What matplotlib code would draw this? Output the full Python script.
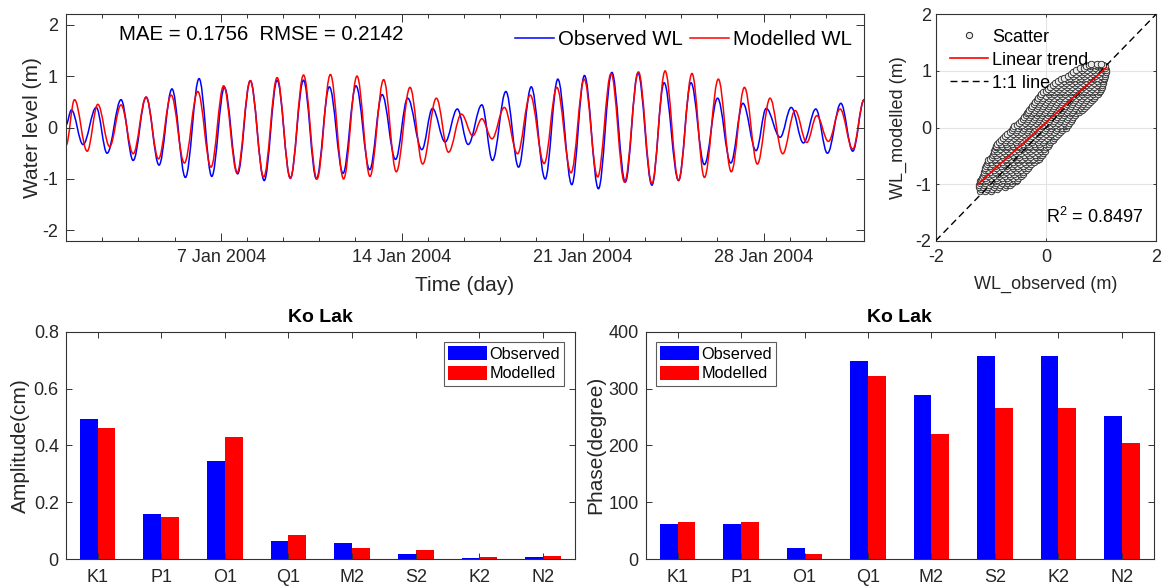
import numpy as np
import matplotlib
matplotlib.use('Agg')
import matplotlib.pyplot as plt
import matplotlib.dates as mdates
from matplotlib.path import Path
from matplotlib.patches import PathPatch
from matplotlib.lines import Line2D
from matplotlib.ticker import FixedLocator

plt.rcParams['font.family'] = ['Liberation Sans', 'DejaVu Sans']
plt.rcParams['mathtext.default'] = 'regular'
plt.rcParams['axes.unicode_minus'] = False

# ---------------- data ----------------
# water-level turning points (days since 1 Jan 2004 00:00, metres)
obs_day = [0.0, 0.21, 0.66, 1.17, 1.59, 2.13, 2.60, 3.10, 3.60, 4.10, 4.62, 5.15, 5.64, 6.13,
           6.64, 7.13, 7.67, 8.17, 8.68, 9.19, 9.69, 10.19, 10.72, 11.22, 11.75, 12.23, 12.75,
           13.22, 13.77, 14.18, 14.67, 15.14, 15.56, 16.09, 16.50, 17.02, 17.51, 18.00, 18.54,
           19.03, 19.57, 20.06, 20.60, 21.12, 21.64, 22.13, 22.67, 23.14, 23.70, 24.18, 24.70,
           25.21, 25.72, 26.19, 26.70, 27.09, 27.63, 28.06, 28.53, 29.01, 29.46, 29.98, 30.44, 30.88]
obs_wl = [0.05, 0.34, -0.33, 0.39, -0.50, 0.54, -0.64, 0.59, -0.73, 0.75, -0.97, 0.95, -0.95, 0.78,
          -0.90, 0.91, -1.03, 0.92, -0.98, 0.92, -1.00, 0.79, -0.89, 0.81, -0.82, 0.64, -0.62,
          0.57, -0.43, 0.37, -0.28, 0.36, -0.33, 0.44, -0.64, 0.70, -0.77, 0.79, -1.00,
          0.94, -1.11, 1.01, -1.19, 1.07, -1.06, 1.06, -1.12, 0.87, -1.03, 0.87, -0.72,
          0.57, -0.69, 0.47, -0.45, 0.37, -0.19, 0.39, -0.30, 0.36, -0.50, 0.47, -0.46, 0.54]
mod_day = [0.0, 0.33, 0.82, 1.23, 1.69, 2.13, 2.60, 3.10, 3.58, 4.07, 4.58, 5.10, 5.61, 6.10,
           6.62, 7.13, 7.65, 8.17, 8.68, 9.19, 9.71, 10.23, 10.74, 11.26, 11.76, 12.29, 12.78,
           13.31, 13.80, 14.33, 14.80, 15.30, 15.74, 16.09, 16.48, 16.96, 17.47, 17.96, 18.50,
           18.99, 19.54, 20.05, 20.57, 21.09, 21.61, 22.15, 22.67, 23.18, 23.70, 24.22, 24.70,
           25.24, 25.74, 26.25, 26.75, 27.24, 27.73, 28.21, 28.66, 29.05, 29.50, 29.95, 30.44, 30.88]
mod_wl = [-0.35, 0.54, -0.46, 0.45, -0.37, 0.44, -0.51, 0.59, -0.61, 0.63, -0.69, 0.70, -0.77, 0.81,
          -0.88, 0.91, -0.96, 0.97, -0.99, 1.02, -1.00, 1.03, -1.00, 1.00, -0.95, 0.93, -0.86,
          0.78, -0.71, 0.57, -0.48, 0.26, -0.16, 0.17, -0.22, 0.39, -0.51, 0.63, -0.70,
          0.78, -0.88, 0.94, -0.96, 1.05, -1.06, 1.08, -1.09, 1.10, -1.03, 1.05, -0.97,
          0.94, -0.86, 0.78, -0.71, 0.57, -0.51, 0.33, -0.29, 0.23, -0.27, 0.36, -0.42, 0.54]

major_tick_days = [6, 13, 20, 27]
minor_tick_days = [1.4, 2.8, 4.2, 7.0, 8.4, 9.8, 11.2, 14.0, 15.4, 16.8, 18.2,
                   21.0, 22.4, 23.8, 25.2, 28.0, 29.4]

scatter_rows = [
    (-1.12, [-1.20, -1.10, -1.00]),
    (-1.085, [-1.17, -1.07, -0.97, -0.88]),
    (-1.05, [-1.22, -1.15, -1.05, -0.95, -0.85, -0.75]),
    (-1.015, [-1.21, -1.13, -1.03, -0.93, -0.83, -0.73, -0.66]),
    (-0.98, [-1.20, -1.10, -1.00, -0.90, -0.80, -0.70, -0.62]),
    (-0.95, [-1.19, -1.13, -1.03, -0.93, -0.83, -0.73, -0.63, -0.55]),
    (-0.92, [-1.18, -1.08, -0.98, -0.88, -0.78, -0.68, -0.58, -0.52]),
    (-0.885, [-1.16, -1.10, -1.00, -0.90, -0.80, -0.70, -0.60, -0.50]),
    (-0.85, [-1.15, -1.05, -0.95, -0.85, -0.75, -0.65, -0.55, -0.45]),
    (-0.815, [-1.13, -1.07, -0.97, -0.87, -0.77, -0.67, -0.57, -0.47, -0.41]),
    (-0.78, [-1.12, -1.02, -0.92, -0.82, -0.72, -0.62, -0.52, -0.42]),
    (-0.75, [-1.11, -1.05, -0.95, -0.85, -0.75, -0.65, -0.55, -0.45, -0.36]),
    (-0.72, [-1.10, -1.00, -0.90, -0.80, -0.70, -0.60, -0.50, -0.40, -0.32]),
    (-0.685, [-1.08, -1.02, -0.92, -0.82, -0.72, -0.62, -0.52, -0.42, -0.30]),
    (-0.65, [-1.07, -0.97, -0.87, -0.77, -0.67, -0.57, -0.47, -0.37, -0.27]),
    (-0.615, [-1.06, -1.00, -0.90, -0.80, -0.70, -0.60, -0.50, -0.40, -0.30, -0.21]),
    (-0.58, [-1.05, -0.95, -0.85, -0.75, -0.65, -0.55, -0.45, -0.35, -0.25, -0.17]),
    (-0.55, [-1.02, -0.93, -0.83, -0.73, -0.63, -0.53, -0.43, -0.33, -0.23, -0.13]),
    (-0.52, [-0.98, -0.88, -0.78, -0.68, -0.58, -0.48, -0.38, -0.28, -0.18, -0.10]),
    (-0.485, [-0.96, -0.90, -0.80, -0.70, -0.60, -0.50, -0.40, -0.30, -0.20, -0.10, -0.07]),
    (-0.45, [-0.95, -0.85, -0.75, -0.65, -0.55, -0.45, -0.35, -0.25, -0.15, -0.05]),
    (-0.415, [-0.94, -0.88, -0.78, -0.68, -0.58, -0.48, -0.38, -0.28, -0.18, -0.08, -0.01]),
    (-0.38, [-0.93, -0.83, -0.73, -0.63, -0.53, -0.43, -0.33, -0.23, -0.13, -0.03]),
    (-0.35, [-0.91, -0.88, -0.78, -0.68, -0.58, -0.48, -0.38, -0.28, -0.18, -0.08, 0.00]),
    (-0.32, [-0.90, -0.80, -0.70, -0.60, -0.50, -0.40, -0.30, -0.20, -0.10, 0.03]),
    (-0.285, [-0.88, -0.82, -0.72, -0.62, -0.52, -0.42, -0.32, -0.22, -0.12, -0.02, 0.06]),
    (-0.25, [-0.85, -0.75, -0.65, -0.55, -0.45, -0.35, -0.25, -0.15, -0.05, 0.08]),
    (-0.215, [-0.82, -0.73, -0.63, -0.53, -0.43, -0.33, -0.23, -0.13, -0.03, 0.07, 0.12]),
    (-0.18, [-0.78, -0.68, -0.58, -0.48, -0.38, -0.28, -0.18, -0.08, 0.02, 0.15]),
    (-0.15, [-0.74, -0.65, -0.55, -0.45, -0.35, -0.25, -0.15, -0.05, 0.05, 0.15, 0.18]),
    (-0.12, [-0.70, -0.60, -0.50, -0.40, -0.30, -0.20, -0.10, 0.00, 0.10, 0.22]),
    (-0.085, [-0.66, -0.55, -0.45, -0.35, -0.25, -0.15, -0.05, 0.05, 0.15, 0.25]),
    (-0.05, [-0.62, -0.52, -0.42, -0.32, -0.22, -0.12, -0.02, 0.08, 0.18, 0.30]),
    (-0.015, [-0.60, -0.50, -0.40, -0.30, -0.20, -0.10, 0.00, 0.10, 0.20, 0.30, 0.36]),
    (0.02, [-0.57, -0.47, -0.37, -0.27, -0.17, -0.07, 0.03, 0.13, 0.23, 0.35]),
    (0.05, [-0.52, -0.43, -0.33, -0.23, -0.13, -0.03, 0.07, 0.17, 0.27, 0.37, 0.40]),
    (0.08, [-0.48, -0.38, -0.28, -0.18, -0.08, 0.02, 0.12, 0.22, 0.32, 0.42]),
    (0.115, [-0.45, -0.35, -0.25, -0.15, -0.05, 0.05, 0.15, 0.25, 0.35, 0.45]),
    (0.15, [-0.42, -0.32, -0.22, -0.12, -0.02, 0.08, 0.18, 0.28, 0.38, 0.48]),
    (0.185, [-0.40, -0.30, -0.20, -0.10, 0.00, 0.10, 0.20, 0.30, 0.40, 0.50]),
    (0.22, [-0.37, -0.27, -0.17, -0.07, 0.03, 0.13, 0.23, 0.33, 0.43, 0.53]),
    (0.25, [-0.35, -0.25, -0.15, -0.05, 0.05, 0.15, 0.25, 0.35, 0.45, 0.55]),
    (0.28, [-0.32, -0.22, -0.12, -0.02, 0.08, 0.18, 0.28, 0.38, 0.48, 0.60]),
    (0.315, [-0.30, -0.20, -0.10, 0.00, 0.10, 0.20, 0.30, 0.40, 0.50, 0.60, 0.65]),
    (0.35, [-0.27, -0.17, -0.07, 0.03, 0.13, 0.23, 0.33, 0.43, 0.53, 0.63, 0.70]),
    (0.385, [-0.25, -0.15, -0.05, 0.05, 0.15, 0.25, 0.35, 0.45, 0.55, 0.65, 0.73]),
    (0.42, [-0.22, -0.12, -0.02, 0.08, 0.18, 0.28, 0.38, 0.48, 0.58, 0.68, 0.77]),
    (0.45, [-0.20, -0.10, 0.00, 0.10, 0.20, 0.30, 0.40, 0.50, 0.60, 0.70, 0.80]),
    (0.48, [-0.17, -0.07, 0.03, 0.13, 0.23, 0.33, 0.43, 0.53, 0.63, 0.73, 0.83]),
    (0.515, [-0.14, -0.05, 0.05, 0.15, 0.25, 0.35, 0.45, 0.55, 0.65, 0.75, 0.85, 0.88]),
    (0.55, [-0.10, 0.00, 0.10, 0.20, 0.30, 0.40, 0.50, 0.60, 0.70, 0.80, 0.90]),
    (0.585, [-0.08, 0.05, 0.15, 0.25, 0.35, 0.45, 0.55, 0.65, 0.75, 0.85, 0.95]),
    (0.62, [-0.05, 0.05, 0.15, 0.25, 0.35, 0.45, 0.55, 0.65, 0.75, 0.85, 0.97]),
    (0.65, [0.00, 0.10, 0.20, 0.30, 0.40, 0.50, 0.60, 0.70, 0.80, 0.90, 0.99]),
    (0.68, [0.03, 0.13, 0.23, 0.33, 0.43, 0.53, 0.63, 0.73, 0.83, 0.93, 1.00]),
    (0.715, [0.08, 0.18, 0.28, 0.38, 0.48, 0.58, 0.68, 0.78, 0.88, 0.98, 1.02]),
    (0.75, [0.12, 0.22, 0.32, 0.42, 0.52, 0.62, 0.72, 0.82, 0.92, 1.02]),
    (0.785, [0.17, 0.27, 0.37, 0.47, 0.57, 0.67, 0.77, 0.87, 0.97, 1.04]),
    (0.82, [0.22, 0.32, 0.42, 0.52, 0.62, 0.72, 0.82, 0.92, 1.04]),
    (0.85, [0.28, 0.38, 0.48, 0.58, 0.68, 0.78, 0.88, 0.98, 1.05]),
    (0.88, [0.33, 0.43, 0.53, 0.63, 0.73, 0.83, 0.93, 1.05]),
    (0.915, [0.40, 0.50, 0.60, 0.70, 0.80, 0.90, 1.00, 1.07]),
    (0.95, [0.45, 0.55, 0.65, 0.75, 0.85, 0.95, 1.08]),
    (0.985, [0.50, 0.60, 0.70, 0.80, 0.90, 1.00, 1.09]),
    (1.02, [0.55, 0.65, 0.75, 0.85, 0.95, 1.05, 1.10]),
    (1.05, [0.62, 0.70, 0.80, 0.90, 1.00, 1.08]),
    (1.08, [0.72, 0.82, 0.92, 1.02, 1.08]),
    (1.105, [0.78, 0.87, 0.96, 1.04]),
    (1.13, [0.82, 0.92, 1.00]),
]

constituents = ['K1', 'P1', 'O1', 'Q1', 'M2', 'S2', 'K2', 'N2']
amp_obs = [0.493, 0.160, 0.345, 0.062, 0.055, 0.016, 0.004, 0.007]
amp_mod = [0.460, 0.149, 0.429, 0.083, 0.038, 0.030, 0.007, 0.011]
pha_obs = [61, 61, 19, 348, 289, 358, 358, 251]
pha_mod = [66, 66, 9, 322, 220, 266, 266, 205]

# ---------------- style ----------------
AX_COL = '#333333'
TICK_FS = 13
LAB_FS = 15


def style_axes(ax, length=5, pad=5):
    for s in ax.spines.values():
        s.set_color(AX_COL)
        s.set_linewidth(0.8)
    ax.tick_params(which='both', direction='in', top=True, right=True,
                   colors=AX_COL, labelcolor='#262626', labelsize=TICK_FS,
                   width=0.7, pad=pad)
    ax.tick_params(which='major', length=length)
    ax.tick_params(which='minor', length=length * 0.5)


def smooth_path(xs, ys):
    k = 1 - 2 / np.pi
    verts = [(xs[0], ys[0])]
    codes = [Path.MOVETO]
    for i in range(len(xs) - 1):
        dx = xs[i + 1] - xs[i]
        verts += [(xs[i] + k * dx, ys[i]), (xs[i + 1] - k * dx, ys[i + 1]),
                  (xs[i + 1], ys[i + 1])]
        codes += [Path.CURVE4] * 3
    return Path(verts, codes)


fig = plt.figure(figsize=(11.72, 5.88), dpi=100)

# ---------------- time series ----------------
ax1 = fig.add_axes([0.0563, 0.5906, 0.6809, 0.3851])
t0 = mdates.date2num(np.datetime64('2004-01-01T00:00'))
xo = t0 + np.array(obs_day)
xm = t0 + np.array(mod_day)
ax1.add_patch(PathPatch(smooth_path(xo, obs_wl), fill=False, edgecolor='#0000ff', lw=1.1))
ax1.add_patch(PathPatch(smooth_path(xm, mod_wl), fill=False, edgecolor='#ff0000', lw=1.1))
ax1.set_xlim(t0, t0 + 30.875)
ax1.set_ylim(-2.2, 2.2)
ax1.xaxis.set_major_locator(FixedLocator([t0 + d for d in major_tick_days]))
ax1.xaxis.set_major_formatter(mdates.DateFormatter('%-d %b %Y'))
ax1.xaxis.set_minor_locator(FixedLocator([t0 + d for d in minor_tick_days]))
ax1.set_yticks([-2, -1, 0, 1, 2])
ax1.set_yticklabels(['-2', '-1', '0', '1', '2'])
style_axes(ax1, length=6, pad=6)
ax1.set_xlabel('Time (day)', fontsize=LAB_FS, color='#262626', labelpad=7)
ax1.set_ylabel('Water level (m)', fontsize=LAB_FS, color='#262626', labelpad=0)
ax1.text(0.067, 0.912, 'MAE = 0.1756  RMSE = 0.2142', transform=ax1.transAxes,
         fontsize=14.7, ha='left', va='center', color='black')
hl = [Line2D([], [], color='#0000ff', lw=1.1), Line2D([], [], color='#ff0000', lw=1.1)]
ax1.legend(hl, ['Observed WL', 'Modelled WL'], ncol=2, frameon=False, fontsize=14.7,
           loc='upper right', bbox_to_anchor=(1.0, 0.985), handlelength=1.9,
           handletextpad=0.2, columnspacing=0.35, borderaxespad=0.2)

# ---------------- scatter ----------------
ax2 = fig.add_axes([0.7984, 0.5906, 0.188, 0.3851])
sc_obs = np.array([x for y, xs in scatter_rows for x in xs])
sc_mod = np.array([y for y, xs in scatter_rows for x in xs])
ax2.grid(True, color='#e3e3e3', lw=0.8, zorder=0)
ax2.scatter(sc_obs, sc_mod, s=22, facecolor='#ebebeb', edgecolor='#222222',
            linewidths=0.6, zorder=2)
ax2.plot([-2, 2], [-2, 2], ls=(0, (5, 3)), color='black', lw=1.0, zorder=3)
p = np.polyfit(sc_obs, sc_mod, 1)
xx = np.array([sc_obs.min(), sc_obs.max()])
ax2.plot(xx, np.polyval(p, xx), color='#ff0000', lw=1.2, zorder=4)
ax2.set_xlim(-2, 2)
ax2.set_ylim(-2, 2)
ax2.set_xticks([-2, 0, 2])
ax2.set_xticklabels(['-2', '0', '2'])
ax2.set_yticks([-2, -1, 0, 1, 2])
ax2.set_yticklabels(['-2', '-1', '0', '1', '2'])
style_axes(ax2, length=2.5, pad=3)
ax2.tick_params(axis='x', pad=6)
ax2.set_axisbelow(True)
ax2.set_xlabel('WL_observed (m)', fontsize=13, color='#262626', labelpad=7)
ax2.set_ylabel('WL_modelled (m)', fontsize=13, color='#262626', labelpad=6)
ax2.text(0.0, -1.58, 'R$^2$ = 0.8497', fontsize=13, ha='left', va='center')
hs = [Line2D([], [], ls='none', marker='o', markersize=4.5, markerfacecolor='#ebebeb',
             markeredgecolor='#222222', markeredgewidth=0.7),
      Line2D([], [], color='#ff0000', lw=1.2),
      Line2D([], [], color='black', lw=1.0, ls=(0, (5, 3)))]
ax2.legend(hs, ['Scatter', 'Linear trend', '1:1 line'], frameon=False, fontsize=13,
           loc='upper left', bbox_to_anchor=(0.017, 0.985), handlelength=2.1,
           handletextpad=0.2, labelspacing=0.34, borderaxespad=0.2)

# ---------------- bar charts ----------------
pos = np.arange(1, len(constituents) + 1)
bw = 0.28


def bar_axes(rect, obs, mod, ylim, yticks, ylabels, ylabel, legloc, anchor):
    ax = fig.add_axes(rect)
    b1 = ax.bar(pos - bw / 2, obs, bw, color='#0000ff', edgecolor='none')
    b2 = ax.bar(pos + bw / 2, mod, bw, color='#ff0000', edgecolor='none')
    ax.set_xlim(0.5, 8.5)
    ax.set_ylim(*ylim)
    ax.set_xticks(pos)
    ax.set_xticklabels(constituents)
    ax.set_yticks(yticks)
    ax.set_yticklabels(ylabels)
    style_axes(ax, length=4, pad=5)
    ax.tick_params(axis='x', pad=7)
    ax.set_ylabel(ylabel, fontsize=LAB_FS, color='#262626', labelpad=2.5)
    ax.set_title('Ko Lak', fontsize=14, fontweight='bold', pad=7)
    leg = ax.legend([b1, b2], ['Observed', 'Modelled'], loc=legloc, bbox_to_anchor=anchor,
                    fontsize=11.7, handlelength=2.4, handleheight=1.0,
                    handletextpad=0.15, labelspacing=0.25, borderpad=0.25,
                    borderaxespad=0, fancybox=False)
    leg.get_frame().set_edgecolor('#333333')
    leg.get_frame().set_linewidth(0.8)
    return ax


bar_axes([0.0561, 0.0493, 0.4344, 0.3866], amp_obs, amp_mod, (0, 0.8),
         [0, 0.2, 0.4, 0.6, 0.8], ['0', '0.2', '0.4', '0.6', '0.8'],
         'Amplitude(cm)', 'upper right', (0.979, 0.956))
bar_axes([0.5510, 0.0493, 0.4334, 0.3866], pha_obs, pha_mod, (0, 400),
         [0, 100, 200, 300, 400], ['0', '100', '200', '300', '400'],
         'Phase(degree)', 'upper left', (0.02, 0.956))

fig.savefig('out.png', dpi=100)
